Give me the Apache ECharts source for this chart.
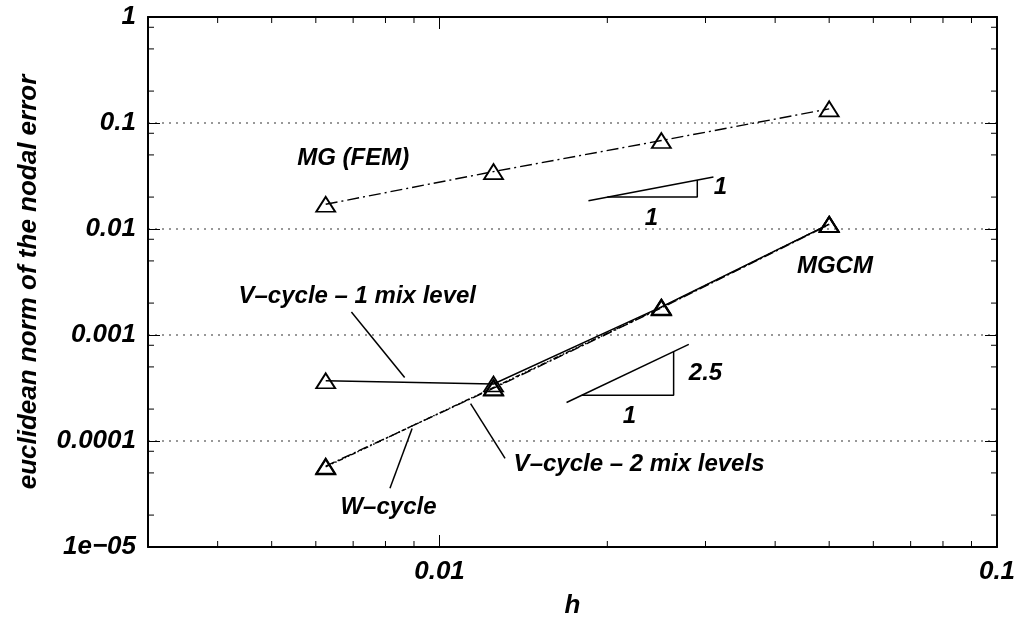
<!DOCTYPE html>
<html>
<head>
<meta charset="utf-8">
<script src="https://cdn.jsdelivr.net/npm/echarts@6/dist/echarts.min.js"></script>
<style>
  html, body { margin: 0; padding: 0; background: #fff; }
  #chart { width: 1026px; height: 619px; }
</style>
</head>
<body>
<div id="chart"></div>
<script>
// mesh sizes and errors
const hValues = [0.00625, 0.0125, 0.025, 0.05]
const mgFem = [0.0171, 0.0348, 0.0683, 0.136]
const vCycle1 = [3.7e-4, 3.45e-4, 1.84e-3, 0.0111]
const vCycle2 = [5.7e-5, 3.2e-4, 1.82e-3, 0.0111]
const wCycle = [5.8e-5, 3.15e-4, 1.8e-3, 0.011]

// slope triangles and leader lines (data coords)
const slope1Legs = [[0.02, 0.02], [0.029, 0.02], [0.029, 0.029]]
const slope1Hyp = [[0.0185, 0.0185], [0.031, 0.031]]
const slope25Legs = [[0.018, 2.7e-4], [0.0263, 2.7e-4], [0.0263, 6.97e-4]]
const slope25Hyp = [[0.0169, 2.31e-4], [0.028, 8.15e-4]]
const leaderV1 = [[0.00695, 1.65e-3], [0.00866, 3.97e-4]]
const leaderV2 = [[0.01137, 2.25e-4], [0.01311, 6.85e-5]]
const leaderW = [[0.00893, 1.31e-4], [0.00815, 3.58e-5]]

// text notes
const noteText = ['MG (FEM)', 'MGCM', 'V\u2013cycle \u2013 1 mix level', 'V\u2013cycle \u2013 2 mix levels', 'W\u2013cycle', '1', '1', '2.5', '1']
const noteX = [0.00700, 0.0512, 0.00712, 0.0228, 0.00810, 0.0319, 0.024, 0.030, 0.0219]
const noteY = [0.0462, 0.00446, 2.33e-3, 6.0e-5, 2.37e-5, 0.0245, 0.0125, 4.31e-4, 1.69e-4]

// axes
const xMin = 0.003, xMax = 0.1
const yMin = 1e-5, yMax = 1
const xMinorTicks = [0.004, 0.005, 0.006, 0.007, 0.008, 0.009, 0.02, 0.03, 0.04, 0.05, 0.06, 0.07, 0.08, 0.09]
const yMinorTicks = [2e-5, 5e-5, 8e-5, 2e-4, 5e-4, 8e-4, 2e-3, 5e-3, 8e-3, 0.02, 0.05, 0.08, 0.2, 0.5, 0.8]

const font = 'Liberation Sans'

function fmtTick(v) {
    if (v < 5e-5) return '1e\u221205'
    return String(Number(v.toPrecision(2)))
}

function pairs(ys) {
    return hValues.map((h, i) => [h, ys[i]])
}

function mainSeries(data, type) {
    return {
        type: 'line',
        data: pairs(data),
        symbol: 'triangle',
        symbolSize: [19, 15],
        itemStyle: { color: 'rgba(0,0,0,0)', borderColor: '#000', borderWidth: 1.8 },
        lineStyle: { color: '#000', width: 1.4, type: type },
        z: 3
    }
}

function segSeries(data) {
    return {
        type: 'line',
        data: data,
        symbol: 'none',
        lineStyle: { color: '#000', width: 1.5, type: 'solid' },
        z: 2
    }
}

function baseX(pos) {
    return {
        type: 'log',
        logBase: 10,
        min: xMin,
        max: xMax,
        position: pos,
        axisLine: { show: true, lineStyle: { color: '#000', width: 2 } },
        axisTick: { show: true, inside: true, length: 12, lineStyle: { color: '#000', width: 1 } },
        axisLabel: {
            show: pos === 'bottom',
            showMinLabel: false,
            margin: 12,
            color: '#000',
            fontFamily: font,
            fontWeight: 'bold',
            fontStyle: 'italic',
            fontSize: 26,
            formatter: fmtTick
        },
        splitLine: { show: false }
    }
}

function baseY(pos) {
    return {
        type: 'log',
        logBase: 10,
        min: yMin,
        max: yMax,
        position: pos,
        axisLine: { show: true, lineStyle: { color: '#000', width: 2 } },
        axisTick: { show: true, inside: true, length: 12, lineStyle: { color: '#000', width: 1 } },
        axisLabel: {
            show: pos === 'left',
            margin: 12,
            color: '#000',
            fontFamily: font,
            fontWeight: 'bold',
            fontStyle: 'italic',
            fontSize: 26,
            formatter: fmtTick
        },
        splitLine: { show: pos === 'left', lineStyle: { color: '#777', width: 1.5, type: [2, 5] } }
    }
}

const nameStyle = { color: '#000', fontFamily: font, fontWeight: 'bold', fontStyle: 'italic', fontSize: 26 }

const xAxes = [baseX('bottom'), baseX('top')]
xAxes[0].name = 'h'
xAxes[0].nameLocation = 'middle'
xAxes[0].nameGap = 46
xAxes[0].nameTextStyle = nameStyle

const yAxes = [baseY('left'), baseY('right')]
yAxes[0].name = 'euclidean norm of the nodal error'
yAxes[0].nameLocation = 'middle'
yAxes[0].nameGap = 106
yAxes[0].nameTextStyle = nameStyle

let chart = echarts.init(document.getElementById('chart'))
chart.setOption({
    animation: false,
    backgroundColor: '#fff',
    grid: { left: 148, right: 29, top: 17, bottom: 72, outerBoundsMode: 'none', containLabel: false },
    xAxis: xAxes,
    yAxis: yAxes,
    series: [
        mainSeries(vCycle1, 'solid'),
        mainSeries(vCycle2, [5, 2, 1.5, 2, 1.5, 2]),
        mainSeries(wCycle, [10, 3, 2, 3]),
        mainSeries(mgFem, [12, 4, 2, 4]),
        segSeries(slope1Legs),
        segSeries(slope1Hyp),
        segSeries(slope25Legs),
        segSeries(slope25Hyp),
        segSeries(leaderV1),
        segSeries(leaderV2),
        segSeries(leaderW),
        {
            type: 'scatter',
            symbolSize: 0,
            itemStyle: { opacity: 1 },
            data: noteText.map((t, i) => ({ value: [noteX[i], noteY[i]], name: t })),
            label: {
                show: true,
                position: 'inside',
                formatter: p => p.name,
                color: '#000',
                opacity: 1,
                textBorderWidth: 0,
                fontFamily: font,
                fontWeight: 'bold',
                fontStyle: 'italic',
                fontSize: 24
            },
            z: 4
        },
        {
            // minor ticks on bottom and top
            type: 'custom',
            data: xMinorTicks.map(v => [v, yMin]),
            renderItem(params, api) {
                let b = api.coord([api.value(0), yMin])
                let t = api.coord([api.value(0), yMax])
                return {
                    type: 'group',
                    children: [
                        { type: 'line', shape: { x1: b[0], y1: b[1], x2: b[0], y2: b[1] - 6 }, style: { stroke: '#000', lineWidth: 1 } },
                        { type: 'line', shape: { x1: t[0], y1: t[1], x2: t[0], y2: t[1] + 6 }, style: { stroke: '#000', lineWidth: 1 } }
                    ]
                }
            },
            z: 1
        },
        {
            // minor ticks on left and right
            type: 'custom',
            data: yMinorTicks.map(v => [xMin, v]),
            renderItem(params, api) {
                let l = api.coord([xMin, api.value(1)])
                let r = api.coord([xMax, api.value(1)])
                return {
                    type: 'group',
                    children: [
                        { type: 'line', shape: { x1: l[0], y1: l[1], x2: l[0] + 6, y2: l[1] }, style: { stroke: '#000', lineWidth: 1 } },
                        { type: 'line', shape: { x1: r[0], y1: r[1], x2: r[0] - 6, y2: r[1] }, style: { stroke: '#000', lineWidth: 1 } }
                    ]
                }
            },
            z: 1
        }
    ]
})
</script>
</body>
</html>
